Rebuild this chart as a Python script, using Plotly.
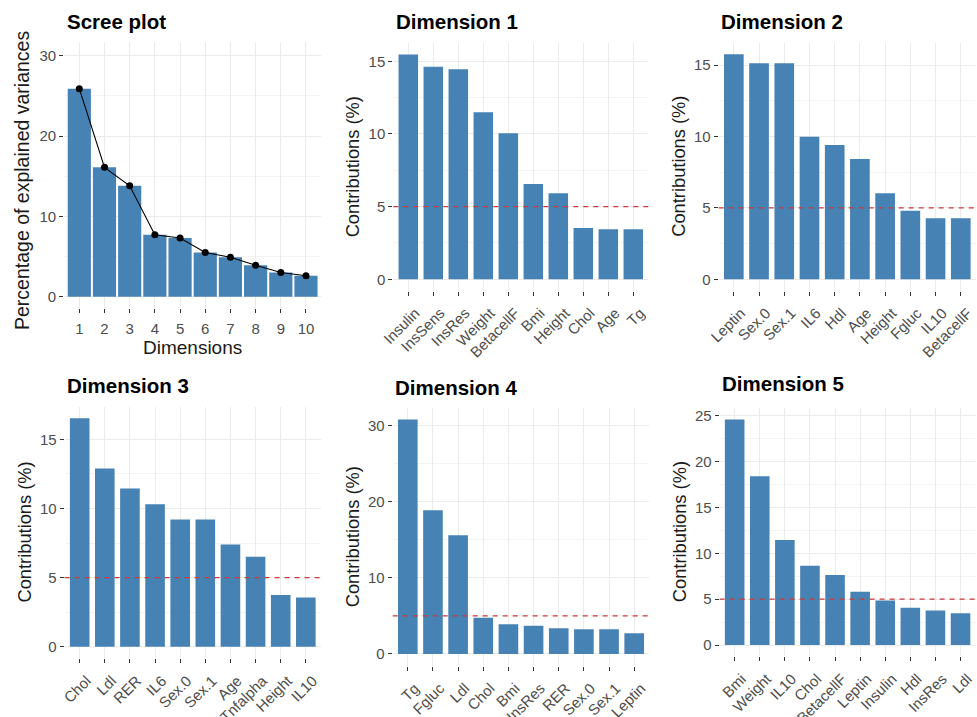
import plotly.graph_objects as go

W, H = 977, 717

# ---- data ----
scree_dims = ["1", "2", "3", "4", "5", "6", "7", "8", "9", "10"]
scree_vals = [25.9, 16.1, 13.8, 7.7, 7.3, 5.5, 4.9, 3.9, 3.0, 2.6]

dim1_labels = ["Insulin", "InsSens", "InsRes", "Weight", "BetacellF", "Bmi", "Height", "Chol", "Age", "Tg"]
dim1_vals = [15.48, 14.63, 14.45, 11.49, 10.05, 6.56, 5.92, 3.53, 3.44, 3.44]

dim2_labels = ["Leptin", "Sex.0", "Sex.1", "IL6", "Hdl", "Age", "Height", "Fgluc", "IL10", "BetacellF"]
dim2_vals = [15.75, 15.12, 15.12, 9.98, 9.40, 8.42, 6.02, 4.80, 4.27, 4.27]

dim3_labels = ["Chol", "Ldl", "RER", "IL6", "Sex.0", "Sex.1", "Age", "Tnfalpha", "Height", "IL10"]
dim3_vals = [16.52, 12.90, 11.45, 10.30, 9.21, 9.21, 7.40, 6.51, 3.74, 3.57]

dim4_labels = ["Tg", "Fgluc", "Ldl", "Chol", "Bmi", "InsRes", "RER", "Sex.0", "Sex.1", "Leptin"]
dim4_vals = [30.8, 18.9, 15.6, 4.77, 3.90, 3.72, 3.37, 3.24, 3.24, 2.72]

dim5_labels = ["Bmi", "Weight", "IL10", "Chol", "BetacellF", "Leptin", "Insulin", "Hdl", "InsRes", "Ldl"]
dim5_vals = [24.6, 18.4, 11.45, 8.65, 7.64, 5.82, 4.84, 4.07, 3.75, 3.45]

expected_contrib = 5

# ---- styling ----
FONT = "Liberation Sans, Arial, sans-serif"
BAR = "#4682B4"
TICKC = "#4D4D4D"
GRID = "#EBEBEB"
MINOR = "#F3F3F3"

def px_x(a, b):
    return [a / W, b / W]

def px_y(top, bottom):
    return [1 - bottom / H, 1 - top / H]

# panel definitions
panels = [
    ("scree", scree_dims, scree_vals, (64.2, 321.1), (42.4, 308.3), [-1.45, 31.66], 10, "Scree plot", 22, 22),
    ("d1", dim1_labels, dim1_vals, (393.3, 648.3), (43.2, 290.5), [-0.774, 16.25], 5, "Dimension 1", 22, 352.5),
    ("d2", dim2_labels, dim2_vals, (718.7, 975.9), (43.0, 290.6), [-0.79, 16.54], 5, "Dimension 2", 22, 679),
    ("d3", dim3_labels, dim3_vals, (64.6, 320.9), (406.9, 658.2), [-0.83, 17.35], 5, "Dimension 3", 385, 25),
    ("d4", dim4_labels, dim4_vals, (392.7, 649.3), (407.9, 665.7), [-1.54, 32.34], 10, "Dimension 4", 387, 352.5),
    ("d5", dim5_labels, dim5_vals, (719.6, 975.6), (408.1, 656.3), [-1.23, 25.83], 5, "Dimension 5", 384, 679),
]

fig = go.Figure()
layout = dict(
    width=W, height=H, autosize=False,
    margin=dict(l=0, r=0, t=0, b=0, pad=0, autoexpand=False),
    paper_bgcolor="white", plot_bgcolor="white",
    showlegend=False,
    font=dict(family=FONT, color=TICKC),
)
annotations = []
shapes = []

for i, (name, labels, vals, xd, yd, yr, dt, title, ty, ytx) in enumerate(panels):
    k = "" if i == 0 else str(i + 1)
    xa, ya = "x" + k, "y" + k
    is_scree = name == "scree"
    fig.add_trace(go.Bar(
        x=labels, y=vals, xaxis=xa, yaxis=ya,
        marker=dict(color=BAR, line=dict(width=0)),
        width=0.92 if is_scree else 0.78,
        hoverinfo="x+y",
    ))
    if is_scree:
        fig.add_trace(go.Scatter(
            x=labels, y=vals, xaxis=xa, yaxis=ya, mode="lines+markers",
            line=dict(color="black", width=1.1),
            marker=dict(color="black", size=7),
        ))
    else:
        shapes.append(dict(
            type="line", xref=f"{xa} domain", yref=ya, x0=0, x1=1,
            y0=expected_contrib, y1=expected_contrib,
            line=dict(color="#CC3A3A", width=1.3, dash="5px,5px"), layer="above",
        ))
    xaxis = dict(
        domain=px_x(*xd), anchor=ya, type="category", automargin=False,
        range=[-0.6, 9.6], categoryorder="array", categoryarray=labels,
        showgrid=True, gridcolor=GRID, gridwidth=1.2,
        ticks="outside", ticklen=4, tickcolor="#333333", tickwidth=1,
        tickangle=0 if is_scree else -45,
        tickfont=dict(family=FONT, size=15, color=TICKC),
        showline=False, zeroline=False, fixedrange=True,
    )
    if is_scree:
        xaxis["ticklabelstandoff"] = 3
    else:
        xaxis["ticklabelstandoff"] = 3
        xaxis["ticklabelshift"] = 7
    layout["xaxis" + k] = xaxis
    layout["yaxis" + k] = dict(
        domain=px_y(*yd), anchor=xa, range=yr, automargin=False,
        tickmode="linear", tick0=0, dtick=dt,
        showgrid=True, gridcolor=GRID, gridwidth=1.2,
        minor=dict(showgrid=True, gridcolor=MINOR, gridwidth=0.8, dtick=dt / 2, tick0=0),
        ticks="outside", ticklen=4, tickcolor="#333333", tickwidth=1,
        tickfont=dict(family=FONT, size=15, color=TICKC),
        showline=False, zeroline=False, fixedrange=True,
    )
    annotations.append(dict(
        text=f"<b>{title}</b>", xref="paper", yref="paper",
        x=(xd[0] + 0.5) / W, y=1 - ty / H, xanchor="left", yanchor="middle",
        showarrow=False, font=dict(family=FONT, size=20.5, color="black"),
    ))
    ytitle = "Percentage of explained variances" if is_scree else "Contributions (%)"
    ycenter = 181 if is_scree else (yd[0] + yd[1]) / 2
    annotations.append(dict(
        text=ytitle, xref="paper", yref="paper",
        x=ytx / W, y=1 - ycenter / H, xanchor="center", yanchor="middle",
        textangle=-90, showarrow=False,
        font=dict(family=FONT, size=19.5 if is_scree else 18.3, color="#1A1A1A"),
    ))

annotations.append(dict(
    text="Dimensions", xref="paper", yref="paper",
    x=(64.2 + 321.1) / 2 / W, y=1 - 347 / H, xanchor="center", yanchor="middle",
    showarrow=False, font=dict(family=FONT, size=19, color="#1A1A1A"),
))

layout["annotations"] = annotations
layout["shapes"] = shapes
fig.update_layout(**layout)
fig.write_html(
    "out.html",
    config={"displayModeBar": False, "staticPlot": False},
    post_script="document.body.style.margin='0';document.body.style.padding='0';document.documentElement.style.overflow='hidden';",
)
